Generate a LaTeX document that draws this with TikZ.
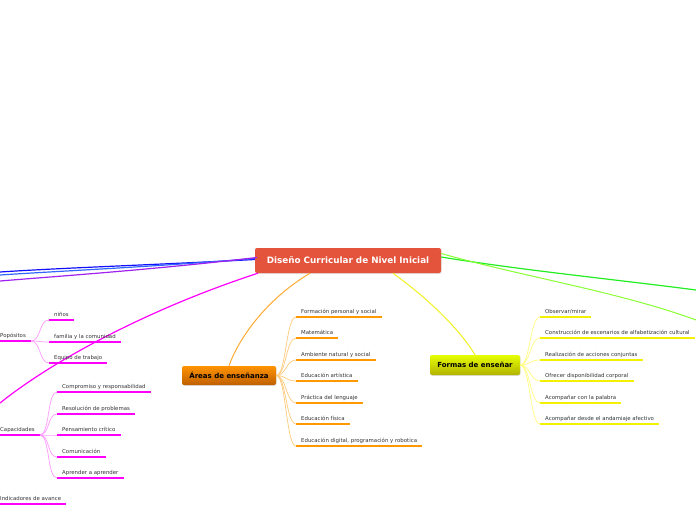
\documentclass[tikz,border=0pt]{standalone}
\usepackage{fontspec}
\setmainfont{DejaVu Sans}
\usetikzlibrary{shadows}
\definecolor{txt}{HTML}{333333}
\definecolor{cred}{HTML}{E4533B}
\definecolor{orU}{HTML}{FF9900}
\definecolor{orL}{HTML}{FFC97A}
\definecolor{orM}{HTML}{FFAA33}
\definecolor{yeU}{HTML}{F2F200}
\definecolor{yeL}{HTML}{FFFF80}
\definecolor{yeM}{HTML}{F0F020}
\definecolor{maU}{HTML}{FF00FF}
\definecolor{maL}{HTML}{FF99FF}
\definecolor{blA}{HTML}{1010FF}
\definecolor{blB}{HTML}{3366FF}
\definecolor{puA}{HTML}{A020F0}
\definecolor{grA}{HTML}{22EE22}
\definecolor{grB}{HTML}{88FF33}
\begin{document}
\begin{tikzpicture}[x=1pt,y=-1pt,
  lbl/.style={anchor=south west, inner xsep=5pt, inner ysep=2.5pt, text height=4pt, text depth=1pt,
    font=\fontsize{5.4}{6.5}\selectfont, text=txt},
  ul/.style={line width=2pt},
  sub/.style={line width=0.7pt},
  mainc/.style={line width=1.2pt},
  topic/.style={rounded corners=2pt, font=\bfseries\fontsize{7}{8.5}\selectfont, text=black,
    drop shadow={opacity=0.25, shadow xshift=0.6pt, shadow yshift=-0.8pt}},
]
\useasboundingbox (0,0) rectangle (696,520);

% central node
\node[rounded corners=2pt, fill=cred, minimum width=186pt, minimum height=25pt,
  text=white, font=\bfseries\fontsize{8.8}{10}\selectfont,
  drop shadow={opacity=0.25, shadow xshift=0.6pt, shadow yshift=-0.8pt}] (c) at (348,260.5) {Diseño Curricular de Nivel Inicial};

% topic nodes
\node[topic, top color=orange!85!yellow, bottom color=orange!75!black, minimum width=94pt, minimum height=19pt] (ar) at (229,375.5) {Áreas de enseñanza};
\node[topic, top color=yellow!90!green, bottom color=yellow!70!black, minimum width=90pt, minimum height=20pt] (fo) at (475,365) {Formas de enseñar};

% off-canvas endpoints
\coordinate (eb1) at (0,272);
\coordinate (eb2) at (0,275);
\coordinate (ep) at (0,281);
\coordinate (em) at (0,403);
\coordinate (eg1) at (696,290);
\coordinate (eg2) at (696,320);

% main connectors
\draw[mainc, blA] ([yshift=1pt]c.west) .. controls (150,265) and (60,268) .. (eb1);
\draw[mainc, blB] ([yshift=2pt]c.west) .. controls (150,267) and (60,271) .. (eb2);
\draw[mainc, puA] ([xshift=2pt,yshift=3pt]c.west) .. controls (150,270) and (60,276) .. (ep);
\draw[mainc, maU] ([xshift=-90pt]c.south) .. controls (160,305) and (60,355) .. (em);
\draw[line width=1pt, orM] ([xshift=-38pt]c.south) .. controls (265,300) and (238,340) .. (ar.north);
\draw[line width=1pt, yeM] ([xshift=45pt]c.south) .. controls (430,300) and (460,330) .. (fo.north);
\draw[mainc, grA] ([yshift=3.5pt]c.east) .. controls (520,270) and (620,280) .. (eg1);
\draw[line width=1pt, grB] ([yshift=7pt]c.east) .. controls (520,276) and (620,292) .. (eg2);

% Áreas children
\foreach \n/\y/\t in {a1/317/Formación personal y social, a2/338/Matemática, a3/360/Ambiente natural y social,
  a4/381/Educación artística, a5/403/Práctica del lenguaje, a6/424/Educación física,
  a7/446/{Educación digital, programación y robotica}}{
  \node[lbl] (\n) at (296,\y) {\t};
  \draw[ul, orU] (\n.south west) -- (\n.south east);
  \draw[sub, orL] (ar.east) .. controls +(10,0) and +(-10,0) .. (\n.south west);
}

% Formas children
\foreach \n/\y/\t in {f1/317/{Observar/mirar}, f2/338/Construcción de escenarios de alfabetización cultural,
  f3/360/Realización de acciones conjuntas, f4/381/Ofrecer disponibilidad corporal,
  f5/403/Acompañar con la palabra, f6/424/Acompañar desde el andamiaje afectivo}{
  \node[lbl] (\n) at (540,\y) {\t};
  \draw[ul, yeU] (\n.south west) -- (\n.south east);
  \draw[sub, yeL] (fo.east) .. controls +(10,0) and +(-10,0) .. (\n.south west);
}

% magenta branch (left)
\node[lbl] (pp) at (-5,341) {Popósitos};
\draw[ul, maU] (pp.south west) -- (pp.south east);
\node[lbl] (cp) at (-5,435) {Capacidades};
\draw[ul, maU] (cp.south west) -- (cp.south east);
\node[lbl] (ia) at (-5,504) {Indicadores de avance};
\draw[ul, maU] (ia.south west) -- (ia.south east);

\foreach \n/\y/\t in {p1/320/niños, p2/342/familia y la comunidad, p3/363/Equipo de trabajo}{
  \node[lbl] (\n) at (49,\y) {\t};
  \draw[ul, maU] (\n.south west) -- (\n.south east);
  \draw[sub, maL] (pp.south east) .. controls +(10,0) and +(-10,0) .. (\n.south west);
}
\foreach \n/\y/\t in {k1/392/Compromiso y responsabilidad, k2/414/Resolución de problemas, k3/435/Pensamiento crítico,
  k4/457/Comunicación, k5/478/Aprender a aprender}{
  \node[lbl] (\n) at (57,\y) {\t};
  \draw[ul, maU] (\n.south west) -- (\n.south east);
  \draw[sub, maL] (cp.south east) .. controls +(10,0) and +(-10,0) .. (\n.south west);
}
\end{tikzpicture}
\end{document}
